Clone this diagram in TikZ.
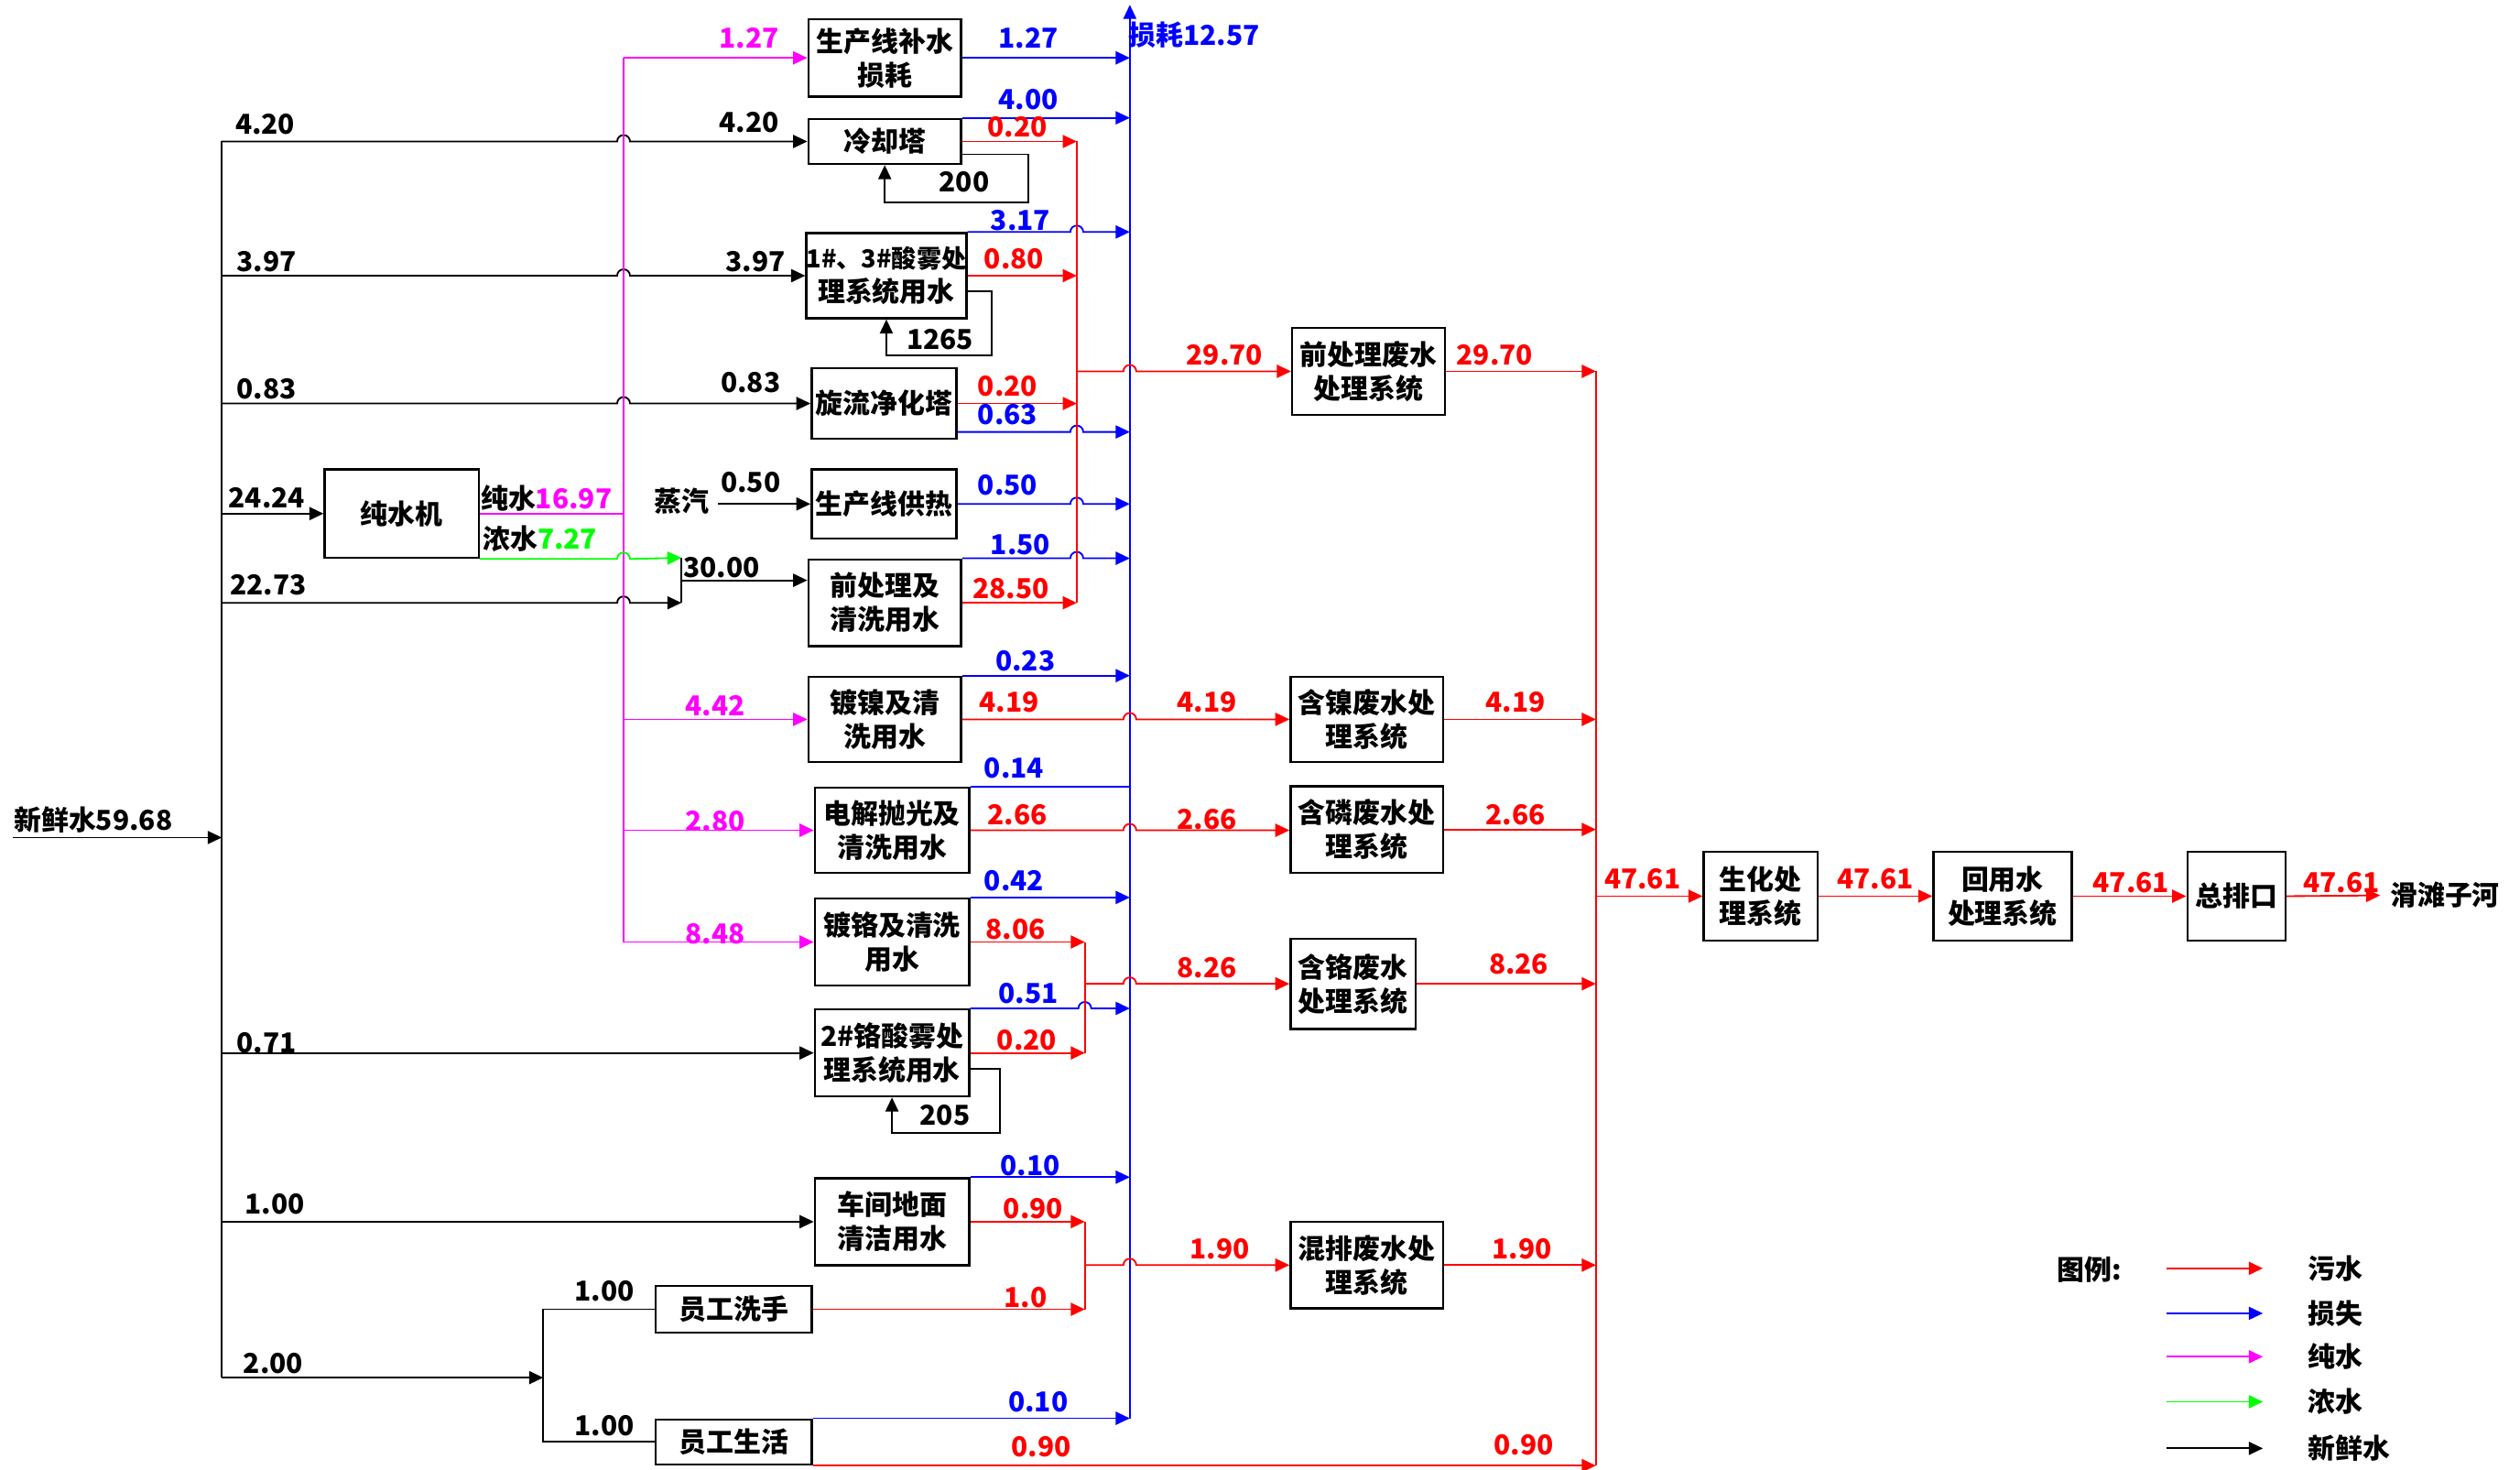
\documentclass[tikz,border=0pt]{standalone}
\usepackage{fontspec}
\setmainfont{Noto Sans CJK SC}
\usetikzlibrary{arrows.meta,positioning,calc}
\definecolor{pmag}{RGB}{255,0,255}
\definecolor{cgrn}{RGB}{0,255,0}
\definecolor{wred}{RGB}{255,0,0}
\definecolor{lblu}{RGB}{0,0,255}
% 跨线处的小弧(线交叉时上跳)
\newcommand{\jmp}[1]{-- ($#1+(-4,0)$) arc[start angle=180,end angle=0,radius=0.08cm]}

\begin{document}
\begin{tikzpicture}[x=0.02cm,y=-0.02cm,
    every node/.append style={font=\fontsize{9.7pt}{12pt}\selectfont\bfseries},
    >={Triangle[length=5pt,width=4.6pt]},
    box/.style={draw,line width=0.8pt,align=center,inner sep=0pt},
    lab/.style={inner sep=0pt},
    fw/.style={draw=black,line width=0.6pt},
    pw/.style={draw=pmag,line width=0.6pt},
    cw/.style={draw=cgrn,line width=0.6pt},
    lw/.style={draw=lblu,line width=0.6pt},
    ww/.style={draw=wred,line width=0.6pt}]
  \useasboundingbox (0,0) rectangle (1568,914);

  % 各用水单元及处理设施(名称/中心x/中心y/宽/高/文字)
  \foreach \nm/\cx/\cy/\w/\h/\txt in {
      bs/550.5/36/1.9/0.96/{生产线补水\\损耗},
      lq/550.5/88/1.9/0.56/{冷却塔},
      sw1/551.5/171.5/1.94/1.06/{\fontsize{8.8pt}{12pt}\selectfont 1\#、3\#酸雾处\\理系统用水},
      xl/550/251/1.8/0.88/{旋流净化塔},
      gr/550/313.5/1.8/0.86/{生产线供热},
      qc/550.5/375/1.9/1.08/{前处理及\\清洗用水},
      dn/550.5/447.5/1.9/1.06/{镀镍及清\\洗用水},
      dj/555/516.5/1.92/1.06/{电解抛光及\\清洗用水},
      dg/555/586/1.92/1.08/{镀铬及清洗\\用水},
      sw2/555/655/1.92/1.08/{2\#铬酸雾处\\理系统用水},
      cj/555/760/1.92/1.08/{车间地面\\清洁用水},
      xs/456.5/814.5/1.94/0.58/{员工洗手},
      sh/456.5/897/1.94/0.56/{员工生活},
      csj/250/319.5/1.92/1.1/{纯水机},
      qcf/851.5/231/1.9/1.08/{前处理废水\\处理系统},
      hn/850.5/447.5/1.9/1.06/{含镍废水处\\理系统},
      hl/850.5/516/1.9/1.08/{含磷废水处\\理系统},
      hg/842/612/1.56/1.12/{含铬废水\\处理系统},
      hp/850.5/787/1.9/1.08/{混排废水处\\理系统},
      sh2/1095.5/557.5/1.42/1.1/{生化处\\理系统},
      hy/1246/557.5/1.72/1.1/{回用水\\处理系统},
      zp/1391.5/557.5/1.22/1.1/{总排口}}{
    \node[box,minimum width=\w cm,minimum height=\h cm] (\nm) at (\cx,\cy) {\txt};
  }

  % 主干线的x位置
  \coordinate (trunk) at (138,0);
  \coordinate (sub) at (338,0);
  \coordinate (pink) at (388,0);
  \coordinate (rc1) at (670,0);
  \coordinate (rc2) at (675,0);
  \coordinate (loss) at (703,0);
  \coordinate (rc3) at (993,0);

  % 新鲜水
  \coordinate (src) at (8,521);
  \coordinate (j22) at (424,375);
  \coordinate (j7) at (424,347);
  \coordinate (j30) at (424,361);
  \coordinate (j2) at (338,857);
  \node[lab] (srct) at (58,510) {新鲜水59.68};
  \draw[fw,->] (src) -- (src -| trunk);
  \draw[fw] (lq.west -| trunk) -- (j2 -| trunk);
  \foreach \b in {lq,sw1,xl}
    \draw[fw,->] (\b.west -| trunk) \jmp{(\b.west -| pink)} -- (\b.west);
  \draw[fw,->] (csj.west -| trunk) -- (csj.west);
  \draw[fw,->] (j22 -| trunk) \jmp{(j22 -| pink)} -- (j22);
  \draw[fw,->] (sw2.west -| trunk) -- (sw2.west);
  \draw[fw,->] (cj.west -| trunk) -- (cj.west);
  \draw[fw,->] (j2 -| trunk) -- (j2);
  \draw[fw] (xs.west) -- (xs.west -| sub) -- (sh.west -| sub) -- (sh.west);
  \draw[fw] (j7) -- (j22);
  \draw[fw,->] (j30) -- (j30 -| qc.west);
  \node[lab] (steam) at (424,312) {蒸汽};
  \draw[fw,->] ([xshift=3pt]gr.west -| steam.east) -- (gr.west);

  % 循环水(冷却塔、酸雾处理)
  \coordinate (c1) at (640,126);
  \coordinate (c2) at (617,221);
  \coordinate (c3) at (622,705);
  \draw[fw,->] ([yshift=-0.16cm]lq.east) -| (c1) -| (lq.south);
  \draw[fw,->] ([yshift=-0.19cm]sw1.east) -| (c2) -| (sw1.south);
  \draw[fw,->] ([yshift=-0.2cm]sw2.east) -| (c3) -| (sw2.south);

  % 纯水、浓水
  \draw[pw] (bs.west -| pink) -- (dg.west -| pink);
  \draw[pw] (csj.east) -- (csj.east -| pink);
  \foreach \b in {bs,dn,dj,dg}
    \draw[pw,->] (\b.west -| pink) -- (\b.west);
  \draw[cw,->] (csj.south east) \jmp{(csj.south east -| pink)} -- (j7);
  \node[lab] (pwt) at (340,310) {纯水\textcolor{pmag}{16.97}};
  \node[lab] (cwt) at (336,335) {浓水\textcolor{cgrn}{7.27}};

  % 损耗
  \coordinate (top) at (703,3);
  \coordinate (xlb) at ([yshift=0.1cm]xl.south east);
  \draw[lw,->] (sh.north east -| loss) -- (top);
  \node[lab,text=lblu] (losst) at (743,22) {损耗12.57};
  \draw[lw,->] (bs.east) -- (bs.east -| loss);
  \draw[lw,->] (lq.north east) -- (lq.north east -| loss);
  \draw[lw,->] (sw1.north east) \jmp{(sw1.north east -| rc1)} -- (sw1.north east -| loss);
  \draw[lw,->] (xlb) \jmp{(xlb -| rc1)} -- (xlb -| loss);
  \draw[lw,->] (gr.east) \jmp{(gr.east -| rc1)} -- (gr.east -| loss);
  \draw[lw,->] (qc.north east) \jmp{(qc.north east -| rc1)} -- (qc.north east -| loss);
  \draw[lw,->] (dn.north east) -- (dn.north east -| loss);
  \draw[lw] (dj.north east) -- (dj.north east -| loss);
  \draw[lw,->] (dg.north east) -- (dg.north east -| loss);
  \draw[lw,->] (sw2.north east) \jmp{(sw2.north east -| rc2)} -- (sw2.north east -| loss);
  \draw[lw,->] (cj.north east) -- (cj.north east -| loss);
  \draw[lw,->] (sh.north east) -- (sh.north east -| loss);

  % 污水
  \coordinate (r1) at (670,231);
  \coordinate (r2) at (675,612);
  \coordinate (r3) at (675,787);
  \draw[ww] (lq.east -| rc1) -- (qc.east -| rc1);
  \foreach \b in {lq,sw1,xl,qc}
    \draw[ww,->] (\b.east) -- (\b.east -| rc1);
  \draw[ww,->] (r1) \jmp{(r1 -| loss)} -- (qcf.west);
  \draw[ww,->] (dn.east) \jmp{(dn.east -| loss)} -- (hn.west);
  \draw[ww,->] (dj.east) \jmp{(dj.east -| loss)} -- (dj.east -| hl.west);
  \draw[ww] (dg.east -| rc2) -- (sw2.east -| rc2);
  \draw[ww] (cj.east -| rc2) -- (xs.east -| rc2);
  \foreach \b in {dg,sw2,cj,xs}
    \draw[ww,->] (\b.east) -- (\b.east -| rc2);
  \draw[ww,->] (r2) \jmp{(r2 -| loss)} -- (hg.west);
  \draw[ww,->] (r3) \jmp{(r3 -| loss)} -- (hp.west);
  \foreach \b in {qcf,hn,hl,hg,hp}
    \draw[ww,->] (\b.east) -- (\b.east -| rc3);
  \draw[ww,->] (sh.south east) -- (sh.south east -| rc3);
  \draw[ww] (qcf.east -| rc3) -- (sh.south east -| rc3);
  \draw[ww,->] (sh2.west -| rc3) -- (sh2.west);
  \draw[ww,->] (sh2) -- (hy);
  \draw[ww,->] (hy) -- (zp);
  \node[anchor=west] (river) at (1481,557) {滑滩子河};
  \draw[ww,->] (zp.east) -- (river.west);

  % 水量标注
  \foreach \cx/\cy/\col/\txt [count=\i] in {
      165/77/black/4.20, 466/76/black/4.20, 166/163/black/3.97, 470/163/black/3.97,
      166/242/black/0.83, 467/238/black/0.83, 166/310/black/24.24, 167/364/black/22.73,
      467/300/black/0.50, 449/353/black/30.00, 166/649/black/0.71, 171/749/black/1.00,
      170/848/black/2.00, 376/803/black/1.00, 376/887/black/1.00,
      600/113/black/200, 585/211/black/1265, 588/694/black/205,
      466/24/pmag/1.27, 445/439/pmag/4.42, 445/511/pmag/2.80, 445/581/pmag/8.48,
      640/24/lblu/1.27, 640/62/lblu/4.00, 635/137/lblu/3.17, 627/258/lblu/0.63,
      627/302/lblu/0.50, 635/339/lblu/1.50, 638/411/lblu/0.23, 631/478/lblu/0.14,
      631/548/lblu/0.42, 640/618/lblu/0.51, 641/725/lblu/0.10, 646/872/lblu/0.10,
      633/79/wred/0.20, 631/161/wred/0.80, 627/240/wred/0.20, 629/366/wred/28.50,
      762/221/wred/29.70, 930/221/wred/29.70, 628/437/wred/4.19, 751/437/wred/4.19,
      943/437/wred/4.19, 633/507/wred/2.66, 751/510/wred/2.66, 943/507/wred/2.66,
      632/578/wred/8.06, 639/647/wred/0.20, 751/602/wred/8.26, 945/600/wred/8.26,
      643/752/wred/0.90, 638/807/wred/1.0, 759/777/wred/1.90, 947/777/wred/1.90,
      648/900/wred/0.90, 948/899/wred/0.90, 1022/547/wred/47.61, 1167/547/wred/47.61,
      1326/549/wred/47.61, 1457/549/wred/47.61}{
    \node[lab,text=\col] (lab\i) at (\cx,\cy) {\txt};
  }

  % 图例
  \node[lab] (lgd) at (1300,790) {图例:};
  \foreach \y/\col/\txt [count=\i] in {789/wred/污水, 817/lblu/损失, 844/pmag/纯水, 872/cgrn/浓水, 901/black/新鲜水}{
    \coordinate (la\i) at (1348,\y);
    \coordinate (lb\i) at (1408,\y);
    \node[anchor=west] (lt\i) at (1430,\y) {\txt};
    \draw[draw=\col,line width=0.6pt,->] (la\i) -- (lb\i);
  }
\end{tikzpicture}
\end{document}
